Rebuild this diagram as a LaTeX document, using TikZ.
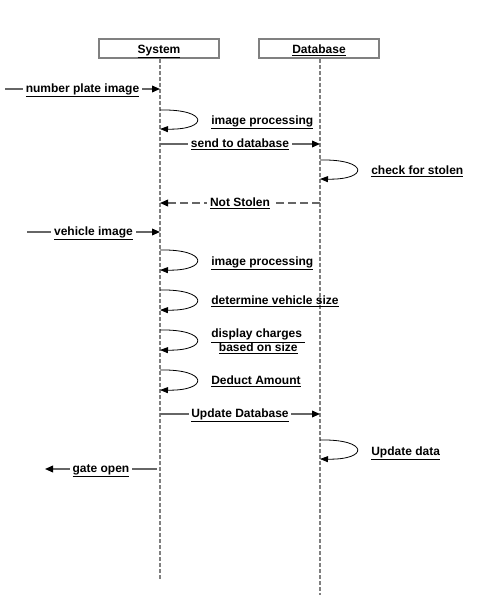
\documentclass[tikz,border=0pt]{standalone}
\usepackage{fontspec}
\setmainfont{Liberation Sans}
\usetikzlibrary{arrows.meta}

\begin{document}
\begin{tikzpicture}[x=0.75pt, y=-0.75pt,
    head/.style={draw=gray, line width=1.5pt, fill=white, minimum width=90pt, minimum height=14.25pt, inner sep=0pt, text height=9pt, text depth=1.8pt, font=\fontsize{9}{10.5}\selectfont\bfseries},
    life/.style={draw=gray, line width=1.1pt, dash pattern=on 3pt off 1.5pt},
    msg/.style={draw=black!60, line width=1.1pt, -{Triangle[length=6pt,width=5pt,color=black]}},
    reply/.style={msg, dash pattern=on 6pt off 3pt},
    self/.style={draw=black, line width=0.6pt, -{Triangle[length=6pt,width=4.5pt]}},
    lbl/.style={font=\fontsize{9}{10.5}\selectfont\bfseries, fill=white, inner sep=2pt, text height=6.8pt, text depth=2pt},
    note/.style={font=\fontsize{9}{10.5}\selectfont\bfseries, anchor=base west, align=center, inner sep=0pt}]
    \useasboundingbox (0,0) rectangle (484,616);
    \node[head] (sys) at (159,48.5) {\underline{System}};
    \node[head] (db) at (319,48.5) {\underline{Database}};
    \coordinate (sysend) at (160,580);
    \coordinate (dbend) at (320,595);
    \draw[life] (sys.south -| sysend) -- (sysend);
    \draw[life] (db.south -| dbend) -- (dbend);

    \coordinate (in1) at (5,89);
    \coordinate (s1) at (160,89);
    \draw[msg] (in1) -- node[lbl] {\underline{number plate image}} (s1);

    \coordinate (s2a) at (160,110);
    \coordinate (s2b) at (160,129);
    \draw[self] (s2a) .. controls (209,109) and (209,130) .. (s2b);
    \node[note] (t2) at (211,124.3) {\underline{image processing}};

    \coordinate (s3) at (160,144);
    \coordinate (d3) at (320,144);
    \draw[msg] (s3) -- node[lbl] {\underline{send to database}} (d3);

    \coordinate (d4a) at (320,160);
    \coordinate (d4b) at (320,179);
    \draw[self] (d4a) .. controls (369,159) and (369,180) .. (d4b);
    \node[note] (t4) at (371,174.3) {\underline{check for stolen}};

    \coordinate (d5) at (320,203);
    \coordinate (s5) at (160,203);
    \draw[reply] (d5) -- node[lbl] {\underline{Not Stolen}} (s5);

    \coordinate (in6) at (27,232);
    \coordinate (s6) at (160,232);
    \draw[msg] (in6) -- node[lbl] {\underline{vehicle image}} (s6);

    \coordinate (s7a) at (160,250);
    \coordinate (s7b) at (160,270);
    \draw[self] (s7a) .. controls (209,249) and (209,271) .. (s7b);
    \node[note] (t7) at (211,265) {\underline{image processing}};

    \coordinate (s8a) at (160,290);
    \coordinate (s8b) at (160,310);
    \draw[self] (s8a) .. controls (209,289) and (209,311) .. (s8b);
    \node[note] (t8) at (211,304.3) {\underline{determine vehicle size}};

    \coordinate (s9a) at (160,330);
    \coordinate (s9b) at (160,350);
    \draw[self] (s9a) .. controls (209,329) and (209,351) .. (s9b);
    \node[note, anchor=west] (t9) at (211,341.5) {\underline{display charges\ }\\\underline{based on size}};

    \coordinate (s10a) at (160,370);
    \coordinate (s10b) at (160,390);
    \draw[self] (s10a) .. controls (209,369) and (209,391) .. (s10b);
    \node[note] (t10) at (211,384.3) {\underline{Deduct Amount}};

    \coordinate (s11) at (160,414);
    \coordinate (d11) at (320,414);
    \draw[msg] (s11) -- node[lbl] {\underline{Update Database}} (d11);

    \coordinate (d12a) at (320,440);
    \coordinate (d12b) at (320,459);
    \draw[self] (d12a) .. controls (369,439) and (369,460) .. (d12b);
    \node[note] (t12) at (371,455) {\underline{Update data}};

    \coordinate (s13) at (157,469);
    \coordinate (out13) at (45,469);
    \draw[msg] (s13) -- node[lbl] {\underline{gate open}} (out13);
\end{tikzpicture}
\end{document}
